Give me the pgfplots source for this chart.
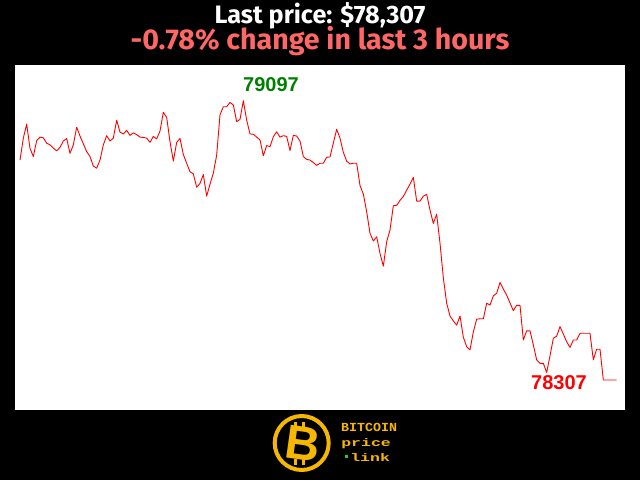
\documentclass[border=0pt]{standalone}
\usepackage{pgfplots}
\pgfplotsset{compat=1.18}
\usepackage{pgfplotstable}
\usepackage{fontspec}
\setmainfont{Liberation Sans}
\newfontfamily\titlefont{Fira Sans}
\newfontfamily\monofont{Liberation Mono}
\definecolor{salmon}{RGB}{255,102,102}
\definecolor{labgreen}{RGB}{0,128,0}
\definecolor{logoyellow}{RGB}{245,183,0}
\definecolor{dotgreen}{RGB}{40,200,60}

% price per minute over the last 3 hours
\pgfplotstableread{
t price
0 78929
1 78991
2 79031
3 78962
4 78939
5 78984
6 78994
7 78992
8 78977
9 78972
10 78963
11 78955
12 78965
13 78983
14 78990
15 78948
16 78972
17 79022
18 78997
19 78975
20 78953
21 78939
22 78912
23 78906
24 78929
25 78972
26 78998
27 78983
28 78991
29 79042
30 79008
31 79003
32 79013
33 78999
34 79006
35 79001
36 78994
37 78993
38 78991
39 78979
40 78996
41 78989
42 79011
43 79064
44 79050
45 78981
46 78926
47 78979
48 78990
49 78945
50 78920
51 78896
52 78890
53 78852
54 78863
55 78888
56 78827
57 78861
58 78892
59 78943
60 79057
61 79080
62 79080
63 79092
64 79085
65 79038
66 79044
67 79097
68 79042
69 79003
70 79002
71 78994
72 78986
73 78941
74 78970
75 78967
76 78995
77 79009
78 78994
79 78998
80 78996
81 78956
82 78999
83 78997
84 78983
85 78939
86 78931
87 78929
88 78922
89 78914
90 78920
91 78920
92 78937
93 78938
94 78977
95 79016
96 78991
97 78951
98 78926
99 78918
100 78920
101 78920
102 78857
103 78833
104 78783
105 78722
106 78700
107 78712
108 78665
109 78629
110 78698
111 78731
112 78800
113 78801
114 78815
115 78826
116 78844
117 78861
118 78880
119 78813
120 78813
121 78827
122 78832
123 78788
124 78750
125 78776
126 78694
127 78596
128 78524
129 78488
130 78474
131 78462
132 78488
133 78428
134 78401
135 78392
136 78443
137 78479
138 78480
139 78480
140 78524
141 78519
142 78545
143 78552
144 78583
145 78564
146 78547
147 78525
148 78503
149 78518
150 78518
151 78420
152 78446
153 78446
154 78406
155 78364
156 78354
157 78354
158 78328
159 78375
160 78425
161 78431
162 78458
163 78437
164 78415
165 78399
166 78420
167 78420
168 78439
169 78439
170 78439
171 78439
172 78364
173 78394
174 78394
175 78307
176 78307
177 78307
178 78307
179 78307
}\pricedata

\begin{document}
\begin{tikzpicture}[x=1pt,y=1pt]
\useasboundingbox (0,0) rectangle (640,480);
\fill[black] (0,0) rectangle (640,480);
\fill[white] (15,70) rectangle (625,415);

% titles
\node[anchor=base,text=white,font=\titlefont\bfseries\fontsize{25.2}{29}\selectfont,inner sep=0]
  at (320,456.5) {Last price: \$78,307};
\node[anchor=base,text=salmon,font=\titlefont\bfseries\fontsize{28.6}{33}\selectfont,inner sep=0]
  at (320,430) {-0.78\% change in last 3 hours};

\begin{axis}[
    at={(15pt,70pt)}, anchor=south west,
    width=610pt, height=345pt, scale only axis,
    xmin=-1.5, xmax=181.5,
    ymin=78222, ymax=79198,
    hide axis, clip=false,
]
\addplot[red, line width=0.9pt, line join=round] table[x=t, y=price] {\pricedata};
\node[anchor=base west, inner sep=0, text=labgreen,
      font=\bfseries\fontsize{20}{24}\selectfont] at (axis cs:66.9,79124) {79097};
\node[anchor=base west, inner sep=0, text=red,
      font=\bfseries\fontsize{20}{24}\selectfont] at (axis cs:153.3,78279) {78307};
\end{axis}

% logo
\draw[logoyellow, line width=4pt] (301.7,37) circle (27);
\node[text=logoyellow, font=\bfseries\fontsize{48}{48}\selectfont, inner sep=0, rotate=-8]
  at (303,36) {B};
\fill[logoyellow] (294,52) rectangle (297,58);
\fill[logoyellow] (302,52) rectangle (305,58);
\fill[logoyellow] (294,15) rectangle (297,21);
\fill[logoyellow] (302,15) rectangle (305,21);
\node[anchor=base west, inner sep=0, text=logoyellow, xscale=1.08,
      font=\monofont\bfseries\fontsize{12.3}{13}\selectfont] at (341,48.5) {BITCOIN};
\node[anchor=base west, inner sep=0, text=logoyellow, xscale=1.5,
      font=\monofont\bfseries\fontsize{11}{12}\selectfont] at (341,34) {price};
\fill[dotgreen] (344.5,21.8) rectangle (347.5,24.8);
\node[anchor=base west, inner sep=0, text=logoyellow, xscale=1.5,
      font=\monofont\bfseries\fontsize{11}{12}\selectfont] at (350,19) {link};
\end{tikzpicture}
\end{document}
